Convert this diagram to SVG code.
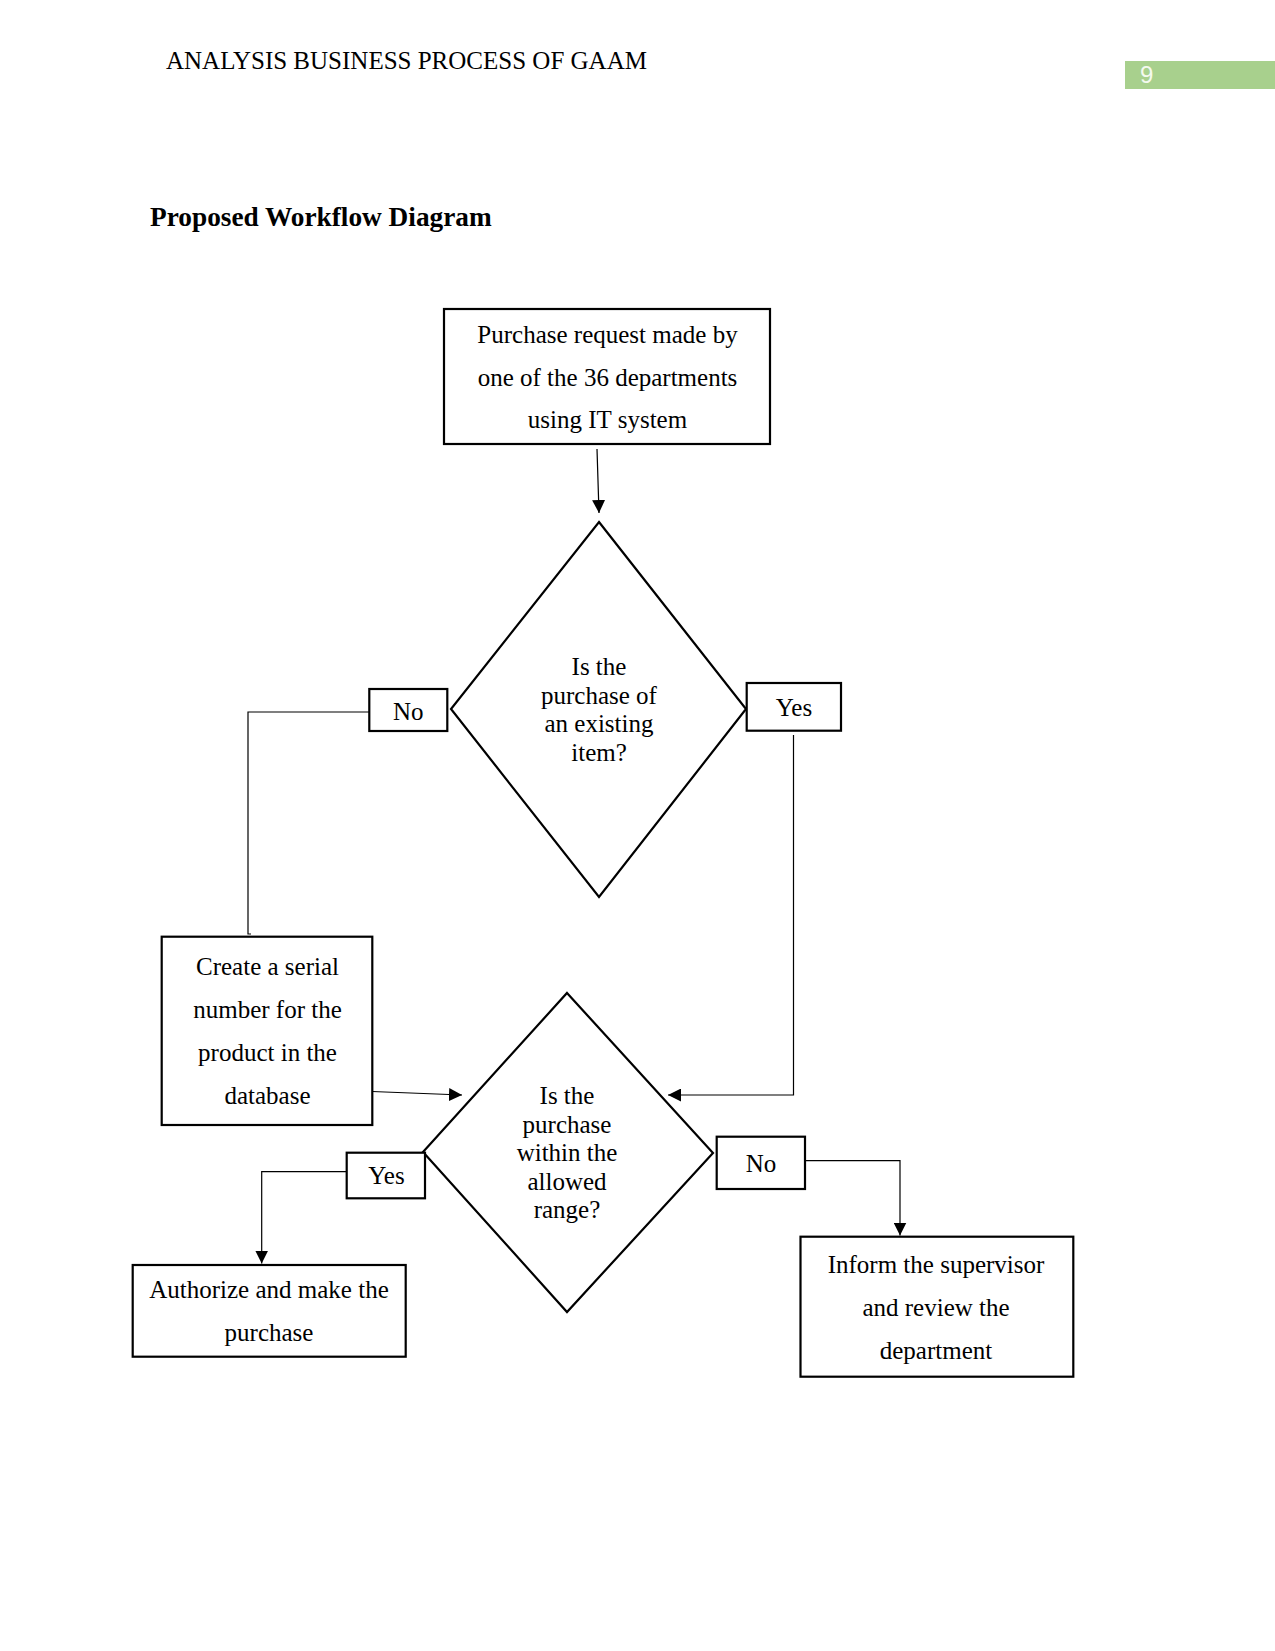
<svg xmlns="http://www.w3.org/2000/svg" width="1275" height="1651" viewBox="0 0 1275 1651">
<style>
text{font-family:"Liberation Serif","Times New Roman",serif;font-size:25px;fill:#000}
.c{text-anchor:middle}
.box{fill:#fff;stroke:#000;stroke-width:2.2}
.dia{fill:#fff;stroke:#000;stroke-width:2.2;stroke-linejoin:miter}
.con{fill:none;stroke:#000;stroke-width:1.2}
</style>
<defs>
<marker id="ah" viewBox="0 0 10 10" refX="10" refY="5" markerWidth="13" markerHeight="13" markerUnits="userSpaceOnUse" orient="auto">
<path d="M0,0 L10,5 L0,10 Z" fill="#000"/>
</marker>
</defs>
<rect width="1275" height="1651" fill="#fff"/>
<g id="header">
<text x="166" y="69">ANALYSIS BUSINESS PROCESS OF GAAM</text>
<rect x="1125" y="61" width="150" height="28" fill="#a8d08d"/>
<text x="1140" y="83" style="font-family:'Liberation Sans Narrow','Liberation Sans',Arial,sans-serif;font-size:24px;fill:#f4f9ef">9</text>
<text x="150" y="226" style="font-weight:bold;font-size:27.3px">Proposed Workflow Diagram</text>
</g>
<g id="connectors">
<line class="con" x1="597" y1="449" x2="599" y2="513" marker-end="url(#ah)"/>
<polyline class="con" points="369,712 248,712 248,934 251,934"/>
<polyline class="con" points="793.5,735 793.5,1095 668,1095" marker-end="url(#ah)"/>
<line class="con" x1="372" y1="1091.5" x2="462" y2="1095" marker-end="url(#ah)"/>
<polyline class="con" points="346.7,1171.7 261.7,1171.7 261.7,1263.5" marker-end="url(#ah)"/>
<polyline class="con" points="805,1160.7 900,1160.7 900,1235.5" marker-end="url(#ah)"/>
</g>
<g id="n_request">
<rect class="box" x="444" y="309" width="326" height="135"/>
<text class="c" x="607.5" y="343">Purchase request made by</text>
<text class="c" x="607.5" y="385.5">one of the 36 departments</text>
<text class="c" x="607.5" y="428">using IT system</text>
</g>
<g id="n_existing">
<polygon class="dia" points="599,522 746,709 599,897 451,709"/>
<text class="c" x="599" y="675">Is the</text>
<text class="c" x="599" y="703.5">purchase of</text>
<text class="c" x="599" y="732">an existing</text>
<text class="c" x="599" y="760.5">item?</text>
</g>
<g id="n_no1">
<rect class="box" x="369.3" y="689" width="78" height="42"/>
<text class="c" x="408.3" y="719.5">No</text>
</g>
<g id="n_yes1">
<rect class="box" x="746.7" y="683" width="94.3" height="47.7"/>
<text class="c" x="794" y="716">Yes</text>
</g>
<g id="n_serial">
<rect class="box" x="161.7" y="936.7" width="210.6" height="188.3"/>
<text class="c" x="267.5" y="975">Create a serial</text>
<text class="c" x="267.5" y="1018">number for the</text>
<text class="c" x="267.5" y="1061">product in the</text>
<text class="c" x="267.5" y="1104">database</text>
</g>
<g id="n_range">
<polygon class="dia" points="567,993 713,1153 567,1312 423,1152"/>
<text class="c" x="567" y="1104">Is the</text>
<text class="c" x="567" y="1132.5">purchase</text>
<text class="c" x="567" y="1161">within the</text>
<text class="c" x="567" y="1189.5">allowed</text>
<text class="c" x="567" y="1218">range?</text>
</g>
<g id="n_yes2">
<rect class="box" x="346.7" y="1152.7" width="78.3" height="45.6"/>
<text class="c" x="386.5" y="1184">Yes</text>
</g>
<g id="n_no2">
<rect class="box" x="716.7" y="1136.7" width="88.3" height="52.3"/>
<text class="c" x="761" y="1172">No</text>
</g>
<g id="n_authorize">
<rect class="box" x="132.7" y="1265" width="273" height="91.7"/>
<text class="c" x="269" y="1297.7">Authorize and make the</text>
<text class="c" x="269" y="1340.5">purchase</text>
</g>
<g id="n_inform">
<rect class="box" x="800.5" y="1236.7" width="272.8" height="140"/>
<text class="c" x="936" y="1273.3">Inform the supervisor</text>
<text class="c" x="936" y="1316">and review the</text>
<text class="c" x="936" y="1358.5">department</text>
</g>
</svg>
